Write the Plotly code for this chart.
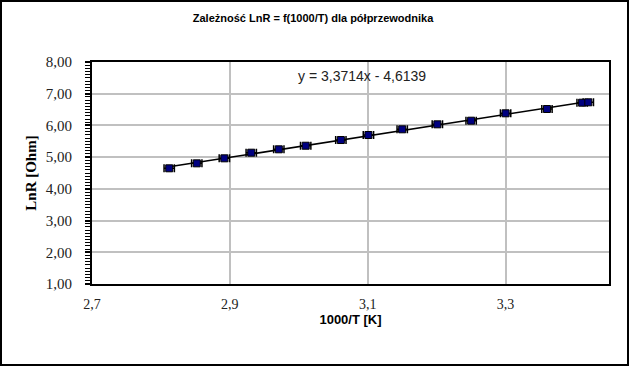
import numpy as np
import plotly.graph_objects as go

# Data
x_vals = [2.812, 2.852, 2.892, 2.931, 2.971, 3.010, 3.061, 3.101, 3.150, 3.201, 3.250, 3.300, 3.360, 3.411, 3.420]
y_vals = [4.648, 4.805, 4.963, 5.140, 5.247, 5.360, 5.540, 5.698, 5.878, 6.035, 6.149, 6.382, 6.518, 6.717, 6.729]

x_ticks = [2.7, 2.9, 3.1, 3.3]
x_tick_labels = ["2,7", "2,9", "3,1", "3,3"]
y_ticks = [1, 2, 3, 4, 5, 6, 7, 8]
y_tick_labels = ["1,00", "2,00", "3,00", "4,00", "5,00", "6,00", "7,00", "8,00"]

title_text = "Zależność LnR = f(1000/T) dla półprzewodnika"
equation_text = "y = 3,3714x - 4,6139"
x_title = "1000/T [K]"
y_title = "LnR [Ohm]"

W, H = 629, 366
ML, MR, MT, MB = 92, 20, 62, 82
PW, PH = W - ML - MR, H - MT - MB

# Linear trendline through the data
coef = np.polyfit(x_vals, y_vals, 1)
tx = [min(x_vals), max(x_vals)]
ty = [coef[0] * v + coef[1] for v in tx]

fig = go.Figure()
fig.add_trace(go.Scatter(
    x=tx, y=ty, mode="lines",
    line=dict(color="black", width=1.6),
    hoverinfo="skip", showlegend=False,
))
fig.add_trace(go.Scatter(
    x=x_vals, y=y_vals, mode="markers",
    marker=dict(symbol="square", size=7, color="#000080",
                line=dict(color="black", width=1)),
    error_x=dict(type="constant", value=0.0075, color="black",
                 thickness=1.5, width=4),
    showlegend=False,
))

fig.update_layout(
    width=W, height=H,
    margin=dict(l=ML, r=MR, t=MT, b=MB),
    paper_bgcolor="white", plot_bgcolor="white",
    title=dict(text="<b>" + title_text + "</b>", x=313 / W, xref="container",
               xanchor="center", y=1 - 18 / H, yanchor="middle",
               font=dict(family="Liberation Sans, Arial", size=11, color="black")),
    xaxis=dict(
        range=[2.7, 3.45], tickvals=x_ticks, ticktext=x_tick_labels,
        showgrid=True, gridcolor="#c0c0c0", gridwidth=1.5,
        showline=True, linecolor="black", linewidth=2, mirror=True,
        ticks="", zeroline=False, ticklabelstandoff=6,
        tickfont=dict(family="Liberation Serif, Times New Roman", size=14, color="#222"),
        title=dict(text="<b>" + x_title + "</b>", standoff=2,
                   font=dict(family="Liberation Sans, Arial", size=13, color="black")),
    ),
    yaxis=dict(
        range=[1, 8], tickvals=y_ticks, ticktext=y_tick_labels,
        showgrid=True, gridcolor="#c0c0c0", gridwidth=1.5,
        showline=True, linecolor="black", linewidth=2, mirror=True,
        ticks="outside", ticklen=5, tickwidth=1.5, tickcolor="black",
        minor=dict(dtick=0.1, ticks="outside", ticklen=5, tickwidth=1.2,
                   tickcolor="black", showgrid=False),
        zeroline=False, ticklabelstandoff=10,
        tickfont=dict(family="Liberation Serif, Times New Roman", size=15, color="#222"),
        title=dict(text="<b>" + y_title + "</b>", standoff=6,
                   font=dict(family="Liberation Serif, Times New Roman", size=15, color="black")),
    ),
    annotations=[dict(
        text=equation_text, xref="paper", yref="paper",
        x=(362 - ML) / PW, y=1 - (76 - MT) / PH,
        showarrow=False, xanchor="center", yanchor="middle",
        font=dict(family="Liberation Sans, Arial", size=14, color="#222"),
    )],
    shapes=[dict(
        type="rect", xref="paper", yref="paper",
        x0=-(ML - 1) / PW, x1=1 + (MR - 1) / PW,
        y0=-(MB - 1) / PH, y1=1 + (MT - 1) / PH,
        line=dict(color="black", width=2),
    )],
)

fig.write_html("out.html", config={"displayModeBar": False},
               post_script="document.body.style.margin='0';")
